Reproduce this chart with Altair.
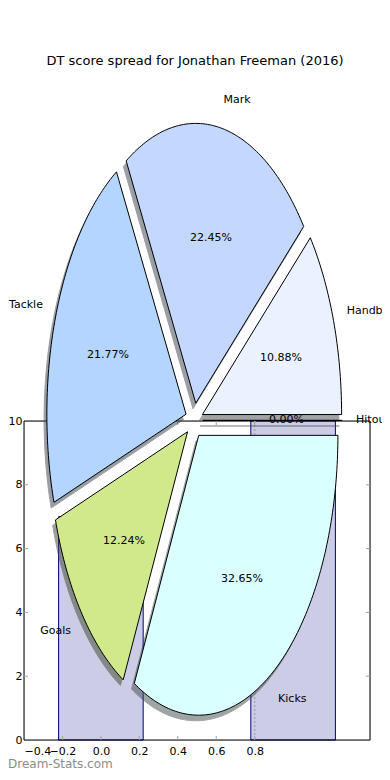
import math
import altair as alt
import pandas as pd

# ---------------- data ----------------
title_text = "DT score spread for Jonathan Freeman (2016)"
categories = ["Hitout", "Handballs", "Mark", "Tackle", "Goals", "Kicks"]
points = [0, 16, 33, 32, 18, 48]
slice_colors = ["#F2F2F2", "#EAF2FF", "#C4D8FF", "#B3D5FF", "#D0EA8B", "#D9FFFF"]

bar_centers = [0.0, 1.0]
bar_heights = [7, 10]
mean_line = [0.8]
x_tick_values = [-0.4, -0.2, 0.0, 0.2, 0.4, 0.6, 0.8]
y_tick_values = [0, 2, 4, 6, 8, 10]
inner_x_ticks = [-0.2, 0.0, 0.2, 0.4, 0.6, 0.8]
inner_y_ticks = [2, 4, 6, 8]
watermark = "Dream-Stats.com"

# ---------------- layout constants ----------------
FONT = "DejaVu Sans"
W, H = 346, 319
EXPLODE = 0.0625
SHADOW_DX, SHADOW_DY = -0.02, -0.02


def shade(hex_color):
    r, g, b = (int(hex_color[i:i + 2], 16) for i in (1, 3, 5))
    return "#%02x%02x%02x" % (int(r * 0.3), int(g * 0.3), int(b * 0.3))


# build pie wedge outlines from the values (radius 1 in pie units)
total = float(sum(points))
rows, labels = [], []
start = 0.0
for cat, p, col in zip(categories, points, slice_colors):
    frac = p / total
    t1, t2 = start, start + 360.0 * frac
    start = t2
    tm = math.radians((t1 + t2) / 2.0)
    ox, oy = EXPLODE * math.cos(tm), EXPLODE * math.sin(tm)
    n = max(2, int(abs(t2 - t1)) + 2)
    pts = [(ox, oy)]
    for k in range(n):
        a = math.radians(t1 + (t2 - t1) * k / (n - 1))
        pts.append((ox + math.cos(a), oy + math.sin(a)))
    for j, (u, v) in enumerate(pts):
        rows.append(dict(cat=cat, idx=j, u=u, v=v, su=u + SHADOW_DX, sv=v + SHADOW_DY,
                         fillc=col, shadec=shade(col)))
    labels.append(dict(cat=cat, frac=frac,
                       lu=(1.1 + EXPLODE) * math.cos(tm), lv=(1.1 + EXPLODE) * math.sin(tm),
                       pu=(0.6 + EXPLODE) * math.cos(tm), pv=(0.6 + EXPLODE) * math.sin(tm)))

wedge_df = pd.DataFrame(rows)
label_df = pd.DataFrame(labels)
bar_df = pd.DataFrame({"c": bar_centers, "h": bar_heights})
one = pd.DataFrame({"k": [0]})

# ---------------- scales ----------------
pie_xs = alt.Scale(domain=[-1.2227, 1.2629], nice=False, zero=False)
pie_ys = alt.Scale(domain=[-1.1422, -0.00214], nice=False, zero=False)
bar_xs = alt.Scale(domain=[-0.4, 1.4], nice=False, zero=False)
bar_ys = alt.Scale(domain=[0, 10], nice=False, zero=False)

# ---------------- bar axes ----------------
x_axis = alt.Axis(values=x_tick_values, format=".1f", ticks=False, tickSize=0, domain=False,
                  grid=False, title=None, labelPadding=5, labelFontSize=11, labelFont=FONT,
                  labelColor="black", labelOverlap=False)
y_axis = alt.Axis(values=y_tick_values, format="d", ticks=False, tickSize=0, domain=False,
                  grid=False, title=None, labelPadding=2, labelFontSize=11, labelFont=FONT,
                  labelColor="black", labelOverlap=False)

bars = alt.Chart(bar_df).transform_calculate(
    x0="datum.c - 0.22", x1="datum.c + 0.22"
).mark_rect(fill="#CCCCE6", stroke="#000088", strokeWidth=1).encode(
    x=alt.X("x0:Q", scale=bar_xs, axis=x_axis),
    x2="x1:Q",
    y=alt.Y("h:Q", scale=bar_ys, axis=y_axis),
    y2=alt.datum(0),
)

frame = alt.Chart(one).mark_rect(fillOpacity=0, stroke="black", strokeWidth=1).encode(
    x=alt.value(0), x2=alt.value(W), y=alt.value(0), y2=alt.value(H))

vline = alt.Chart(pd.DataFrame({"m": mean_line})).mark_rule(
    color="#A8A8B8", strokeDash=[2, 2], strokeWidth=1.5
).encode(x=alt.X("m:Q", scale=bar_xs))

xt = pd.DataFrame({"t": inner_x_ticks})
yt = pd.DataFrame({"t": inner_y_ticks})
TICK = "#A0A0A0"
tick_bottom = alt.Chart(xt).mark_rule(color=TICK).encode(
    x=alt.X("t:Q", scale=bar_xs), y=alt.value(H), y2=alt.value(H - 4))
tick_top = alt.Chart(xt).mark_rule(color=TICK).encode(
    x=alt.X("t:Q", scale=bar_xs), y=alt.value(0), y2=alt.value(4))
tick_left = alt.Chart(yt).mark_rule(color=TICK).encode(
    y=alt.Y("t:Q", scale=bar_ys), x=alt.value(0), x2=alt.value(4))
tick_right = alt.Chart(yt).mark_rule(color=TICK).encode(
    y=alt.Y("t:Q", scale=bar_ys), x=alt.value(W), x2=alt.value(W - 4))

wm = alt.Chart(pd.DataFrame({"w": [watermark]})).mark_text(
    align="left", baseline="bottom", font=FONT, fontSize=12, color="#8C8C8C"
).encode(x=alt.value(-16), y=alt.value(350), text="w:N")

title = alt.Chart(pd.DataFrame({"t": [title_text]})).mark_text(
    align="center", baseline="middle", font=FONT, fontSize=13, color="black"
).encode(x=alt.value(171), y=alt.value(-360), text="t:N")

bar_group = alt.layer(bars, frame, tick_bottom, tick_top, tick_left, tick_right, vline, wm, title)

# ---------------- pie ----------------
shadows = alt.Chart(wedge_df).mark_line(
    interpolate="linear-closed", strokeWidth=1, opacity=0.5
).encode(
    x=alt.X("su:Q", scale=pie_xs, axis=None),
    y=alt.Y("sv:Q", scale=pie_ys, axis=None),
    detail="cat:N",
    order="idx:Q",
    fill=alt.Fill("shadec:N", scale=None, legend=None),
    stroke=alt.Stroke("shadec:N", scale=None, legend=None),
)

wedges = alt.Chart(wedge_df).mark_line(
    interpolate="linear-closed", strokeWidth=1, stroke="black"
).encode(
    x=alt.X("u:Q", scale=pie_xs, axis=None),
    y=alt.Y("v:Q", scale=pie_ys, axis=None),
    detail="cat:N",
    order="idx:Q",
    fill=alt.Fill("fillc:N", scale=None, legend=None),
)

lab_right = alt.Chart(label_df).transform_filter("datum.lu > 0").mark_text(
    align="left", baseline="middle", font=FONT, fontSize=11, color="black"
).encode(x=alt.X("lu:Q", scale=pie_xs, axis=None), y=alt.Y("lv:Q", scale=pie_ys, axis=None),
         text="cat:N")

lab_left = alt.Chart(label_df).transform_filter("datum.lu <= 0").mark_text(
    align="right", baseline="middle", font=FONT, fontSize=11, color="black"
).encode(x=alt.X("lu:Q", scale=pie_xs, axis=None), y=alt.Y("lv:Q", scale=pie_ys, axis=None),
         text="cat:N")

pct = alt.Chart(label_df).mark_text(
    align="center", baseline="middle", font=FONT, fontSize=11, color="black"
).encode(x=alt.X("pu:Q", scale=pie_xs, axis=None), y=alt.Y("pv:Q", scale=pie_ys, axis=None),
         text=alt.Text("frac:Q", format=".2%"))

pie_group = alt.layer(shadows, wedges, pct, lab_right, lab_left)

chart = alt.layer(bar_group, pie_group).resolve_scale(
    x="independent", y="independent"
).properties(
    width=W,
    height=H,
    padding={"left": 16, "top": 413, "right": 12, "bottom": 32},
    autosize=alt.AutoSizeParams(type="none"),
).configure_view(stroke=None).configure(background="white")

chart.save("out.html", embed_options={"renderer": "svg", "actions": False})
